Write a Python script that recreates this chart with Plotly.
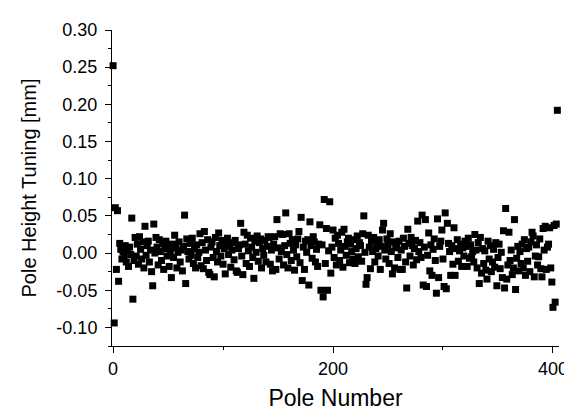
import plotly.graph_objects as go

pole_number = list(range(0, 405))

pole_height_tuning = [
    # 0-19
    0.252, -0.094, 0.061, -0.022, 0.057, -0.038, 0.013, 0.005, -0.008, 0.002,
    -0.005, 0.010, -0.012, 0.003, -0.018, 0.008, -0.002, 0.047, -0.062, -0.010,
    # 20-39
    0.021, -0.004, 0.012, -0.015, 0.022, 0.005, -0.008, 0.015, -0.020, 0.036,
    -0.003, 0.010, 0.016, -0.012, 0.004, -0.025, -0.044, 0.039, 0.000, 0.021,
    # 40-59
    0.008, -0.016, 0.018, 0.002, -0.010, 0.013, -0.022, 0.006, 0.016, -0.004,
    0.010, -0.018, 0.003, -0.033, 0.012, -0.006, 0.024, 0.007, -0.020, 0.001,
    # 60-79
    0.015, -0.012, 0.004, -0.024, 0.009, 0.051, -0.041, 0.019, 0.002, -0.008,
    0.013, -0.003, 0.020, -0.014, 0.006, -0.020, 0.011, -0.006, 0.001, 0.026,
    # 80-99
    -0.017, 0.014, -0.021, 0.029, 0.004, -0.010, 0.018, -0.026, -0.029, 0.008,
    0.015, -0.006, -0.032, 0.021, 0.002, -0.012, 0.027, 0.010, -0.004, 0.017,
    # 100-119
    -0.015, 0.006, -0.028, 0.013, 0.020, -0.002, 0.009, -0.019, 0.004, 0.014,
    -0.009, 0.017, -0.024, -0.026, 0.006, 0.011, 0.040, -0.004, -0.029, 0.028,
    # 120-139
    0.012, -0.014, 0.024, 0.003, -0.018, 0.020, 0.008, -0.006, -0.034, 0.016,
    0.001, 0.023, -0.011, 0.014, 0.019, -0.020, 0.006, -0.003, 0.017, -0.012,
    # 140-159
    0.009, 0.022, 0.021, -0.015, 0.004, -0.024, 0.012, 0.022, -0.022, 0.045,
    0.007, -0.008, 0.026, 0.002, 0.025, -0.016, 0.010, 0.054, -0.002, -0.020,
    # 160-179
    0.026, 0.013, -0.010, 0.018, 0.004, -0.023, 0.011, -0.005, 0.019, 0.029,
    -0.013, 0.048, -0.037, 0.008, -0.022, 0.016, 0.001, 0.018, -0.043, 0.042,
    # 180-199
    0.010, -0.007, 0.022, 0.015, -0.012, 0.005, -0.018, 0.012, 0.038, -0.050,
    0.011, -0.059, 0.072, -0.014, 0.033, -0.050, 0.003, 0.069, -0.027, 0.008,
    # 200-219
    0.031, -0.006, 0.020, -0.016, 0.024, 0.013, -0.010, 0.004, 0.028, -0.019,
    0.032, 0.009, -0.003, 0.015, 0.020, -0.013, 0.012, 0.002, -0.008, 0.018,
    # 220-239
    -0.014, 0.006, 0.023, -0.005, 0.014, 0.010, -0.011, 0.026, 0.050, 0.001,
    -0.042, -0.033, 0.024, 0.008, -0.021, 0.016, 0.002, 0.021, -0.012, 0.006,
    # 240-259
    0.013, -0.004, 0.018, -0.022, 0.009, 0.031, 0.040, 0.004, -0.008, 0.019,
    0.011, -0.014, 0.026, 0.002, -0.028, 0.015, -0.020, 0.007, 0.012, -0.006,
    # 260-279
    0.016, -0.022, 0.004, -0.022, 0.020, 0.009, -0.012, -0.047, 0.032, 0.013,
    -0.004, 0.021, 0.010, -0.016, 0.006, 0.017, -0.009, 0.043, 0.002, 0.014,
    # 280-299
    -0.006, 0.051, -0.043, 0.008, 0.045, -0.045, -0.003, 0.027, -0.024, 0.011,
    -0.030, 0.005, 0.019, -0.010, -0.054, 0.046, -0.033, 0.009, 0.016, 0.031,
    # 300-319
    -0.008, -0.045, 0.054, -0.048, 0.040, 0.013, 0.002, -0.030, 0.010, -0.015,
    0.034, -0.030, 0.006, 0.018, -0.011, 0.003, 0.012, -0.018, 0.007, -0.004,
    # 320-339
    0.016, 0.009, -0.018, 0.020, -0.007, 0.011, -0.005, 0.002, -0.012, 0.025,
    0.004, -0.020, 0.014, -0.041, 0.021, -0.027, 0.006, -0.014, 0.003, -0.023,
    # 340-359
    -0.035, 0.016, -0.008, 0.010, -0.025, -0.012, 0.005, -0.019, 0.014, -0.044,
    -0.006, 0.012, -0.021, 0.001, -0.033, 0.030, -0.047, 0.060, -0.035, -0.016,
    # 360-379
    0.028, -0.010, 0.004, -0.029, -0.020, 0.045, -0.049, -0.007, 0.009, -0.024,
    0.002, -0.014, 0.012, -0.020, 0.018, -0.030, 0.006, -0.011, 0.008, -0.025,
    # 380-399
    0.015, 0.028, 0.023, -0.032, -0.004, 0.011, -0.016, -0.005, 0.019, -0.021,
    -0.032, 0.033, 0.004, 0.036, -0.022, 0.008, 0.012, 0.034, -0.020, -0.039,
    # 400-404
    -0.073, 0.037, -0.066, 0.039, 0.192,
]

x_tick_vals = [0, 200, 400]
y_tick_vals = [-0.10, -0.05, 0.00, 0.05, 0.10, 0.15, 0.20, 0.25, 0.30]
y_tick_text = ["-0.10", "-0.05", "0.00", "0.05", "0.10", "0.15", "0.20", "0.25", "0.30"]

FONT = "Liberation Sans, Arial, sans-serif"

fig = go.Figure()
fig.add_trace(go.Scatter(
    x=pole_number,
    y=pole_height_tuning,
    mode="markers",
    cliponaxis=False,
    marker=dict(symbol="square", size=7, color="black", line=dict(width=0)),
    showlegend=False,
))

fig.update_layout(
    width=572, height=411,
    margin=dict(l=104, r=20, t=15, b=66),
    paper_bgcolor="white", plot_bgcolor="white",
    font=dict(family=FONT, color="black", size=18),
    xaxis=dict(
        range=[-1, 405.5],
        tickmode="array", tickvals=x_tick_vals,
        ticks="outside", ticklen=6, tickwidth=1, tickcolor="black",
        minor=dict(dtick=100, tick0=0, ticks="outside", ticklen=3, tickcolor="black"),
        showline=True, linecolor="black", linewidth=1,
        showgrid=False, zeroline=False,
        tickfont=dict(size=18, family=FONT),
        title=dict(text="Pole Number", font=dict(size=23, family=FONT), standoff=12),
    ),
    yaxis=dict(
        range=[-0.125, 0.30],
        tickmode="array", tickvals=y_tick_vals, ticktext=y_tick_text,
        ticks="outside", ticklen=6, tickwidth=1, tickcolor="black",
        minor=dict(dtick=0.025, tick0=0, ticks="outside", ticklen=3, tickcolor="black"),
        showline=True, linecolor="black", linewidth=1,
        showgrid=False, zeroline=False,
        ticklabelstandoff=4,
        tickfont=dict(size=18, family=FONT),
        title=dict(text="Pole Height Tuning [mm]", font=dict(size=20, family=FONT), standoff=14),
    ),
)

fig.write_html("out.html")
